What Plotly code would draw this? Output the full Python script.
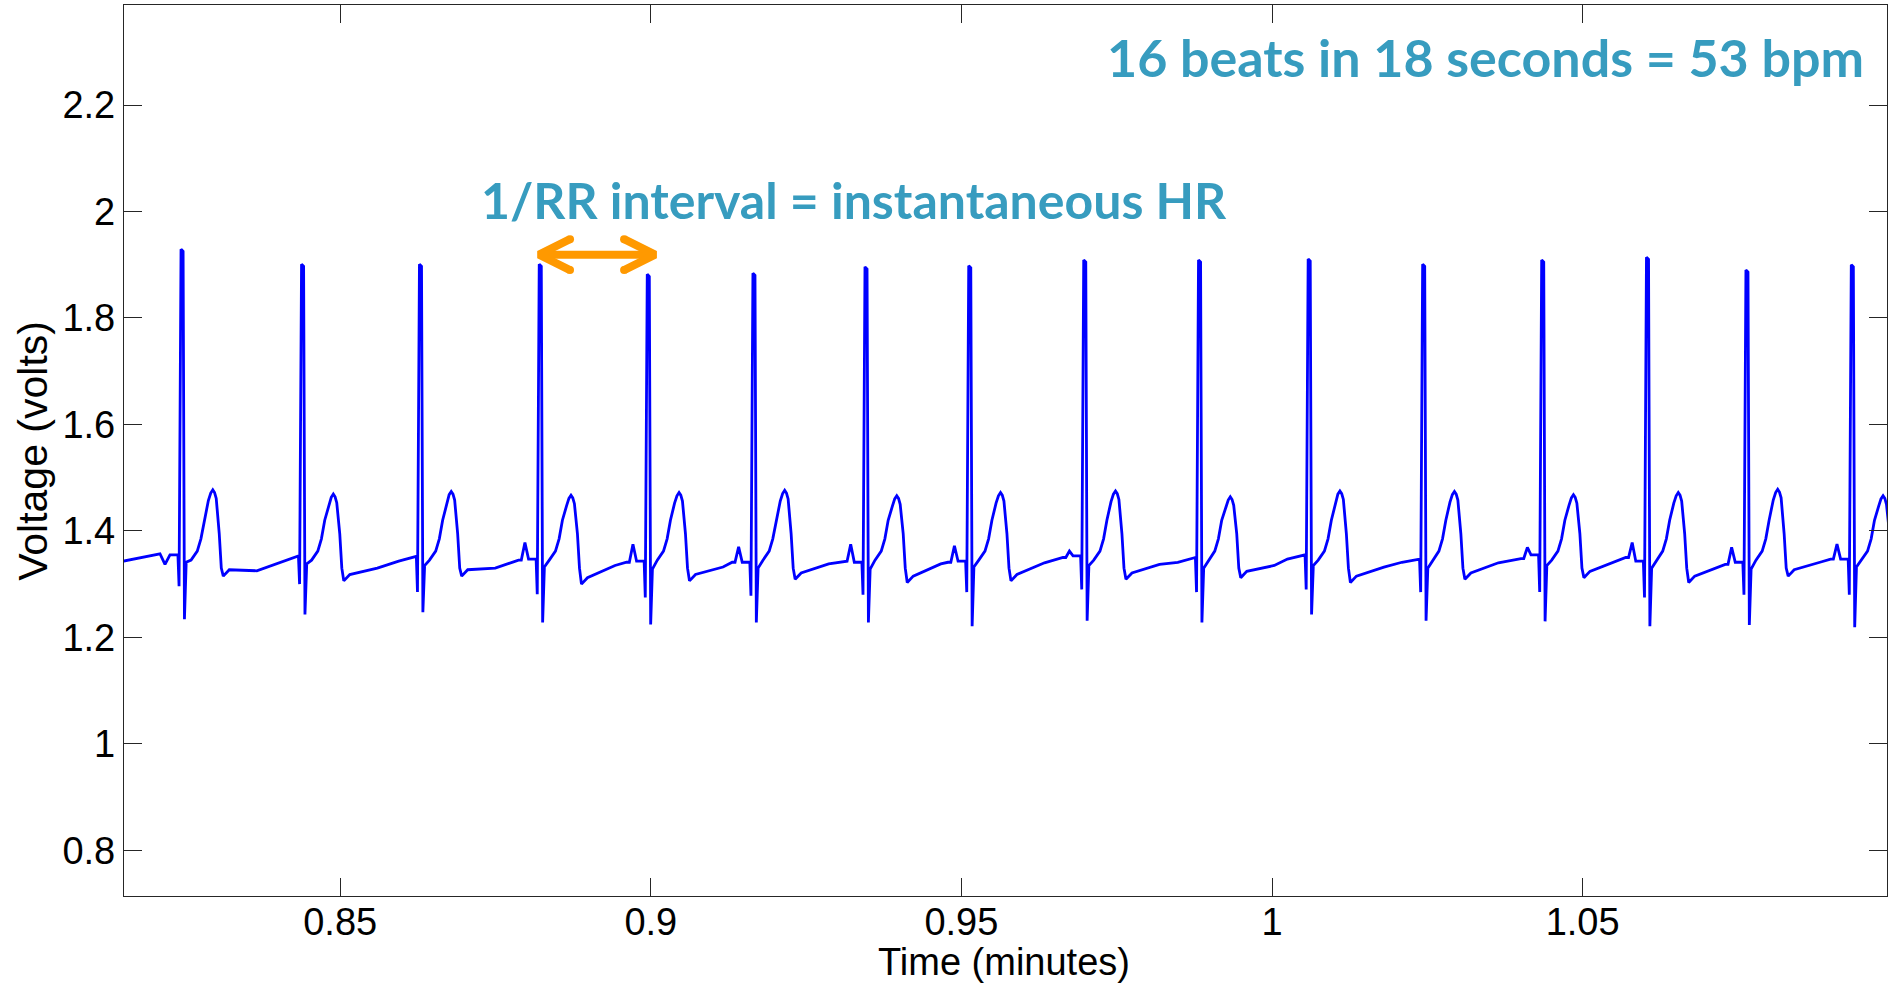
import plotly.graph_objects as go

# ---------------- data ----------------
# R-peak times of the 16 beats (minutes)
r_time = [0.82458, 0.84398, 0.86296, 0.88224, 0.89963, 0.91664, 0.93468, 0.95138,
          0.96989, 0.98837, 1.00602, 1.02445, 1.04361, 1.06048, 1.07649, 1.09345]
# R-peak voltage
r_peak = [1.929, 1.901, 1.901, 1.901, 1.882, 1.884, 1.896, 1.898,
          1.909, 1.909, 1.911, 1.901, 1.909, 1.914, 1.890, 1.900]
# Q dip just before R
q_dip = [1.296, 1.300, 1.285, 1.281, 1.275, 1.278, 1.280, 1.285,
         1.290, 1.285, 1.290, 1.285, 1.285, 1.275, 1.280, 1.280]
# S trough just after R
s_trough = [1.234, 1.243, 1.247, 1.228, 1.224, 1.228, 1.228, 1.221,
            1.231, 1.228, 1.243, 1.231, 1.230, 1.221, 1.223, 1.219]
# J point after S
j_point = [1.341, 1.338, 1.335, 1.332, 1.328, 1.330, 1.328, 1.332,
           1.335, 1.330, 1.335, 1.330, 1.335, 1.330, 1.328, 1.332]
# T-wave peak
t_peak = [1.477, 1.469, 1.474, 1.467, 1.472, 1.476, 1.466, 1.472,
          1.475, 1.464, 1.475, 1.474, 1.468, 1.472, 1.478, 1.466]
# dip after the T wave
t_end_dip = [1.315, 1.306, 1.315, 1.300, 1.306, 1.309, 1.303, 1.306,
             1.309, 1.312, 1.303, 1.309, 1.312, 1.303, 1.315, 1.310]
# baseline in the middle of the RR interval
mid_base = [1.325, 1.330, 1.330, 1.335, 1.332, 1.338, 1.338, 1.340,
            1.337, 1.335, 1.332, 1.340, 1.343, 1.334, 1.342, 1.340]
# baseline shortly before each beat (before the P wave)
late_base = [1.350, 1.341, 1.343, 1.345, 1.341, 1.341, 1.343, 1.341,
             1.350, 1.341, 1.347, 1.341, 1.348, 1.350, 1.337, 1.347]
# baseline right before the Q dip
pre_qrs = [1.355, 1.353, 1.352, 1.347, 1.343, 1.341, 1.341, 1.343,
           1.353, 1.350, 1.355, 1.347, 1.355, 1.343, 1.341, 1.347]
# P-wave peak (None where no P bump is visible)
p_peak = [None, None, None, 1.378, 1.375, 1.370, 1.375, 1.372,
          1.362, None, None, None, 1.369, 1.378, 1.369, 1.375]
# trace before the first beat
lead_t = [0.8150, 0.81826, 0.82099, 0.82180, 0.82260]
lead_v = [1.343, 1.350, 1.357, 1.337, 1.355]

# waveform timing relative to each R peak (seconds) and fixed shape levels
qrs_off = [-0.042, -0.031, -0.012, 0.008, 0.021, 0.038]   # pre, Q, R, R top end, S, J
st_off = [0.085, 0.145, 0.180, 0.212, 0.252, 0.275, 0.295, 0.312, 0.328,
          0.357, 0.377, 0.396, 0.454, 0.72]
st_level = [1.345, 1.362, 1.385, 1.420]                     # ST segment / T upstroke
t_down_level = [1.395, 1.330]                               # T downstroke
p_off = [-0.185, -0.150, -0.115]
late_off = -0.212

# RR-interval arrow (between beat 4 and beat 5)
arrow_x = [0.8820, 0.9007]
arrow_y = 1.919
head_dx = 0.0050
head_dy = 0.029

x_ticks = [0.85, 0.9, 0.95, 1, 1.05]
y_ticks = [0.8, 1, 1.2, 1.4, 1.6, 1.8, 2, 2.2]
x_range = [0.8152, 1.0990]
y_range = [0.714, 2.388]

# ---------------- build the ECG polyline ----------------
ts, vs = list(lead_t), list(lead_v)
for i, R in enumerate(r_time):
    if i > 0:
        ts.append(R + late_off / 60); vs.append(late_base[i])
        if p_peak[i] is not None:
            ts += [R + o / 60 for o in p_off]
            vs += [late_base[i], p_peak[i], pre_qrs[i]]
    ts += [R + o / 60 for o in qrs_off]
    vs += [pre_qrs[i], q_dip[i], r_peak[i], r_peak[i] - 0.004, s_trough[i], j_point[i]]
    tp = t_peak[i]
    vals = [st_level[0], st_level[1], st_level[2], st_level[3], tp - 0.02, tp - 0.006, tp,
            tp - 0.005, tp - 0.016, t_down_level[0], t_down_level[1],
            t_end_dip[i], t_end_dip[i] + 0.012, mid_base[i]]
    ts += [R + o / 60 for o in st_off]
    vs += vals

fig = go.Figure()
fig.add_trace(go.Scatter(x=ts, y=vs, mode="lines",
                         line=dict(color="#0000FF", width=2.8), hoverinfo="skip"))

orange = "#FF9900"
x0, x1 = arrow_x
ax = [x0, x1, None, x0 + head_dx, x0, x0 + head_dx, None, x1 - head_dx, x1, x1 - head_dx]
ay = [arrow_y, arrow_y, None, arrow_y + head_dy, arrow_y, arrow_y - head_dy, None,
      arrow_y + head_dy, arrow_y, arrow_y - head_dy]
fig.add_trace(go.Scatter(x=ax, y=ay, mode="lines", line=dict(color=orange, width=8),
                         hoverinfo="skip", cliponaxis=False))
fig.add_trace(go.Scatter(x=[x0 + head_dx, x0 + head_dx, x1 - head_dx, x1 - head_dx],
                         y=[arrow_y + head_dy, arrow_y - head_dy, arrow_y + head_dy, arrow_y - head_dy],
                         mode="markers", marker=dict(color=orange, size=8), hoverinfo="skip"))

tick_font = dict(family="Liberation Sans, Arial, sans-serif", size=38, color="#000000")
axis_common = dict(showline=True, linecolor="#262626", linewidth=1.3, mirror="ticks",
                   ticks="inside", ticklen=18, tickwidth=1.3, tickcolor="#262626",
                   showgrid=False, zeroline=False, tickfont=tick_font)

fig.update_layout(
    width=1890, height=985,
    margin=dict(l=124, r=3, t=5, b=89),
    paper_bgcolor="white", plot_bgcolor="white",
    showlegend=False,
    xaxis=dict(range=x_range, tickvals=x_ticks, ticktext=[str(v) for v in x_ticks],
               ticklabelstandoff=-8, **axis_common),
    yaxis=dict(range=y_range, tickvals=y_ticks, ticktext=[str(v) for v in y_ticks], **axis_common),
)

teal = "#379CBF"
ann_font = dict(family="Lato, Open Sans, sans-serif", color=teal, weight=700)
fig.add_annotation(text="16 beats in 18 seconds = 53 bpm", xref="paper", yref="paper",
                   x=0.7725, y=0.9416, xanchor="center", yanchor="middle", showarrow=False,
                   font=dict(size=52, **ann_font))
fig.add_annotation(text="1/RR interval = instantaneous HR", xref="paper", yref="paper",
                   x=0.4143, y=0.7816, xanchor="center", yanchor="middle", showarrow=False,
                   font=dict(size=50, **ann_font))
fig.add_annotation(text="Time (minutes)", xref="paper", yref="paper",
                   x=0.499, y=-0.0744, xanchor="center", yanchor="middle", showarrow=False,
                   font=tick_font)
fig.add_annotation(text="Voltage (volts)", xref="paper", yref="paper",
                   x=-0.052, y=0.5, xanchor="center", yanchor="middle", showarrow=False,
                   textangle=-90, font=dict(family="Liberation Sans, Arial, sans-serif",
                                            size=41, color="#000000"))

fig.write_html("out.html")
